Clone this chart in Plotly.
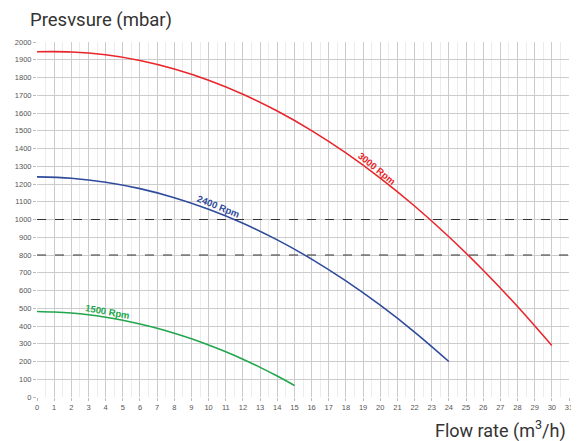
import plotly.graph_objects as go

# Flow rate (m3/h) and pressure (mbar)
q_3000 = [0, 2, 4, 6, 8, 10, 12, 14, 16, 18, 20, 22, 24, 26, 28, 30]
h_3000 = [1945, 1944, 1928, 1896, 1848, 1785, 1706, 1611, 1501, 1375, 1233, 1076, 903, 714, 510, 290]

q_2400 = [0, 2, 4, 6, 8, 10, 12, 14, 16, 18, 20, 22, 24]
h_2400 = [1240, 1232, 1210, 1174, 1123, 1058, 979, 885, 777, 654, 517, 366, 200]

q_1500 = [0, 1, 2, 3, 4, 5, 6, 7, 8, 9, 10, 11, 12, 13, 14, 15]
h_1500 = [482, 479, 473, 463, 449, 432, 411, 387, 359, 328, 293, 255, 213, 167, 118, 65]

ref_levels = [1000, 800]
x_range = [0, 31]
y_range = [0, 2000]

labels = ["3000 Rpm", "2400 Rpm", "1500 Rpm"]
label_pos = [(19.8, 1285), (10.6, 1075), (4.1, 482)]
label_angle = [39, 22, 10]
colors = ["#e8262b", "#2f4b9c", "#22a64d"]

fig = go.Figure()
for q, h, c in [(q_3000, h_3000, colors[0]), (q_2400, h_2400, colors[1]), (q_1500, h_1500, colors[2])]:
    fig.add_trace(go.Scatter(x=q, y=h, mode="lines", line=dict(color=c, width=1.6, shape="spline"),
                             showlegend=False, hoverinfo="skip"))

for lvl in ref_levels:
    fig.add_shape(type="line", xref="x", yref="y", x0=x_range[0], x1=x_range[1], y0=lvl, y1=lvl,
                  line=dict(color="#333333", width=1, dash="dash"))

for t, (lx, ly), a, c in zip(labels, label_pos, label_angle, colors):
    fig.add_annotation(x=lx, y=ly, xref="x", yref="y", text="<b>" + t + "</b>", showarrow=False,
                       textangle=a, font=dict(family="Liberation Sans", size=9.5, color=c))

fig.add_annotation(x=-0.016, y=1.062, xref="paper", yref="paper", text="Presvsure (mbar)", showarrow=False,
                   xanchor="left", yanchor="middle", font=dict(family="Roboto", size=18.5, color="#333333"))
fig.add_annotation(x=0.999, y=-0.092, xref="paper", yref="paper", text="Flow rate (m<sup>3</sup>/h)",
                   showarrow=False, xanchor="right", yanchor="middle",
                   font=dict(family="Roboto", size=18, color="#333333"))

fig.update_layout(
    width=571, height=433,
    margin=dict(l=29, r=10, t=34, b=44),
    plot_bgcolor="white", paper_bgcolor="white",
    xaxis=dict(range=x_range, dtick=1, tick0=0, showgrid=True, gridcolor="#cccccc", gridwidth=1,
               automargin=False,
               zeroline=False, showline=False, ticks="outside", ticklen=3, tickcolor="#bbbbbb",
               tickfont=dict(family="Liberation Sans", size=7.5, color="#555555"),
               minor=dict(dtick=0.5, showgrid=True, gridcolor="#ececec", gridwidth=1)),
    yaxis=dict(range=y_range, dtick=100, tick0=0, showgrid=True, gridcolor="#cccccc", gridwidth=1,
               automargin=False,
               zeroline=False, showline=False, ticks="outside", ticklen=3, tickcolor="#bbbbbb",
               tickfont=dict(family="Liberation Sans", size=7.5, color="#555555")),
)

fig.write_html("out.html")
